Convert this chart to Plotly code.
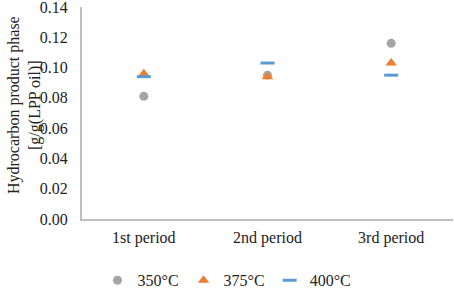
import plotly.graph_objects as go

categories = ["1st period", "2nd period", "3rd period"]
s350 = [0.081, 0.095, 0.116]
s375 = [0.096, 0.094, 0.103]
s400 = [0.094, 0.103, 0.095]
yticks = [0.00, 0.02, 0.04, 0.06, 0.08, 0.10, 0.12, 0.14]
ytitle = "Hydrocarbon product phase<br>[g/g(LPP oil)]"

font = "Liberation Serif"
fig = go.Figure()
fig.add_trace(go.Scatter(x=categories, y=s350, mode="markers", name="350°C",
                         marker=dict(symbol="circle", size=9, color="#A5A5A5")))
fig.add_trace(go.Scatter(x=categories, y=s375, mode="markers", name="375°C",
                         marker=dict(symbol="triangle-up", size=10, color="#ED7D31")))
fig.add_trace(go.Scatter(x=categories, y=s400, mode="markers", name="400°C",
                         marker=dict(symbol="line-ew", size=10, color="#5B9BD5",
                                     line=dict(width=3, color="#5B9BD5"))))

fig.add_annotation(text=ytitle, textangle=-90, xref="paper", yref="paper",
                   x=-0.155, y=0.54, xanchor="center", yanchor="middle",
                   showarrow=False, font=dict(size=16))

fig.update_layout(
    width=454, height=289,
    margin=dict(l=82, r=1, t=7, b=70, autoexpand=False),
    plot_bgcolor="white", paper_bgcolor="white",
    font=dict(family=font, size=16, color="#222"),
    showlegend=True,
    legend=dict(orientation="h", xref="container", x=0.5, xanchor="center",
                yref="container", y=0.03, yanchor="middle",
                font=dict(size=16), itemwidth=30, tracegroupgap=0),
    xaxis=dict(type="category", range=[-0.5, 2.5], showline=True, linecolor="#BFBFBF",
               linewidth=2, showgrid=False, ticks="", ticklabelstandoff=3),
    yaxis=dict(range=[0, 0.14], tickvals=yticks, ticktext=[f"{v:.2f}" for v in yticks],
               showline=True, linecolor="#BFBFBF", linewidth=2, showgrid=False,
               zeroline=False, ticks="", ticklabelstandoff=9, ticklabeloverflow="allow"),
)
fig.write_html("out.html", config={"displayModeBar": False},
               post_script="document.body.style.margin='0px';")
